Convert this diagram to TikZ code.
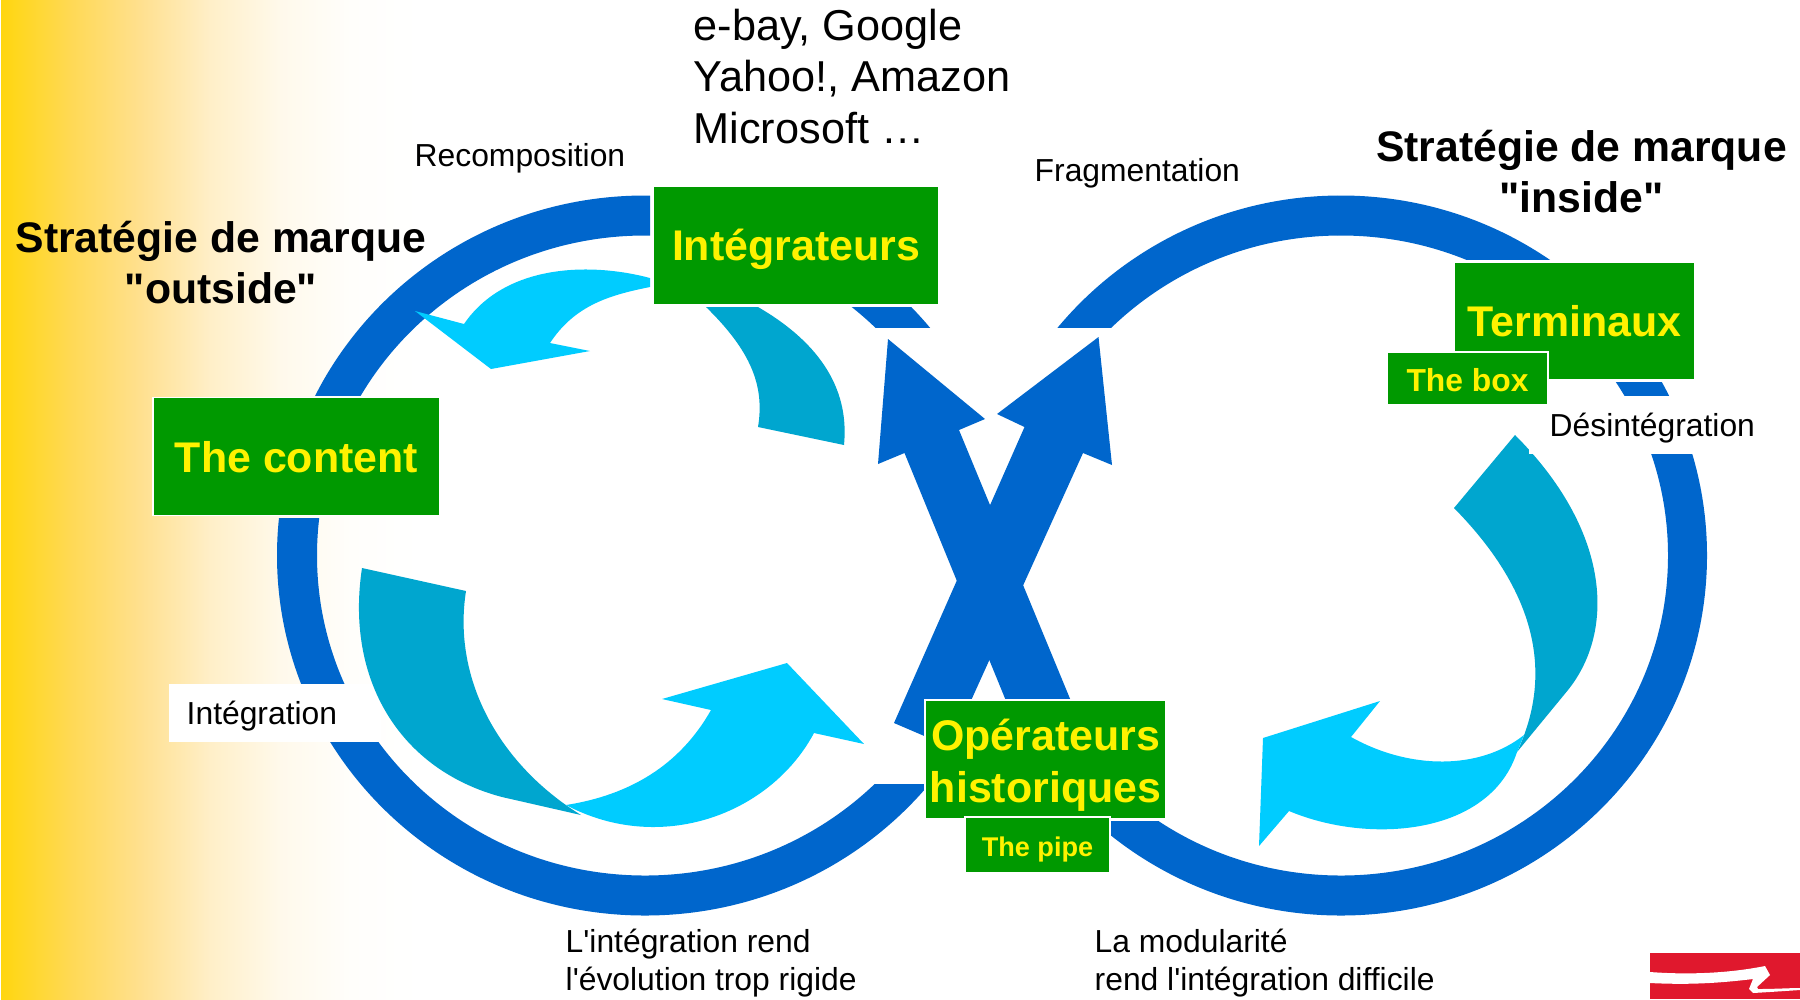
\documentclass[tikz,border=0pt]{standalone}
\usepackage{fontspec}
\setmainfont{Liberation Sans}[Ligatures=TeXOff]
\definecolor{ringblue}{HTML}{0066CC}
\definecolor{darkteal}{HTML}{00A6CF}
\definecolor{lightcyan}{HTML}{00CCFF}
\definecolor{boxgreen}{HTML}{009900}
\definecolor{logored}{HTML}{E0182D}
\definecolor{sideA}{HTML}{FFD60F}
\definecolor{sideB}{HTML}{FFD955}
\definecolor{sideC}{HTML}{FFE08F}
\definecolor{sideD}{HTML}{FFEFC8}
\definecolor{sideE}{HTML}{FFF9EB}
\definecolor{sideF}{HTML}{FFFEFB}
\pgfdeclarehorizontalshading{sidefade}{100bp}{
    color(0bp)=(sideA); color(25bp)=(sideA); color(33.33bp)=(sideB); color(41.67bp)=(sideC);
    color(50bp)=(sideD); color(58.33bp)=(sideE); color(66.67bp)=(sideF); color(75bp)=(white); color(100bp)=(white)}
\tikzset{
    greenbox/.style={draw=white, line width=0.4pt, fill=boxgreen, text=yellow, font=\fontsize{12.2}{14.8}\selectfont\bfseries, align=center, inner sep=0pt},
    oneline/.style={text depth=0pt, text height=0.87em},
    smallbox/.style={greenbox, text depth=0pt, text height=0.73em, font=\fontsize{9.05}{11}\selectfont\bfseries},
    plainlabel/.style={font=\fontsize{9.05}{10.8}\selectfont, align=left, anchor=west, inner sep=0pt},
    biglabel/.style={font=\fontsize{12.3}{14.6}\selectfont, align=left, anchor=west, inner sep=0pt},
    headlabel/.style={font=\fontsize{12.15}{14.5}\selectfont\bfseries, align=center, inner sep=0pt},
}
\begin{document}
\begin{tikzpicture}[x=0.01cm, y=-0.01cm]
    \useasboundingbox (0,0) rectangle (1800,999);
    \fill[white] (0,0) rectangle (1800,999);
    \shade[shading=sidefade] (1,0) rectangle (420,999);
    % left ring, one piece per window
    \foreach \xa/\ya/\xb/\yb in {0/0/650/395, 0/518/650/999, 650/784/930/999, 840/307/940/327.7} {
        \begin{scope}
            \clip (\xa,\ya) rectangle (\xb,\yb);
            \fill[ringblue, even odd rule] (645,555.5) ellipse [x radius=368, y radius=360] (645,555.5) ellipse [x radius=328, y radius=320];
        \end{scope}
    }
    % right ring
    \foreach \xa/\ya/\xb/\yb in {1000/0/1337/327.3, 1337/0/1600/259, 1337/454/1800/999, 1100/821.7/1337/999, 1600/382/1700/396} {
        \begin{scope}
            \clip (\xa,\ya) rectangle (\xb,\yb);
            \fill[ringblue, even odd rule] (1341,555.5) ellipse [x radius=366, y radius=360] (1341,555.5) ellipse [x radius=327, y radius=320];
        \end{scope}
    }
    % the two crossing arrows
    \fill[ringblue] (888,339) -- (985,419) -- (959,430) -- (1085,735) -- (1020,735) -- (904.5,453) -- (878,464) -- cycle;
    \fill[ringblue] (1098.5,337) -- (997,414) -- (1024.5,427) -- (894,723) -- (950,747) -- (1083,453) -- (1112,465) -- cycle;
    % white label under the arrows
    \node[plainlabel, text depth=0pt, fill=white, minimum width=2.12cm, minimum height=0.58cm, text width=1.76cm, inner xsep=0.18cm, inner ysep=0pt] (integration) at (168,713) {Intégration};
    % curved arrows
    \fill[darkteal] (758,307) .. controls (815,340) and (850,385) .. (844,445) -- (758,427) .. controls (765,385) and (750,350) .. (706,307) -- cycle;
    \fill[lightcyan] (650,278) .. controls (590,262) and (505,264) .. (464,324) -- (415,311) -- (491,369) -- (590,351) -- (550,343) .. controls (575,305) and (610,295) .. (650,287) -- cycle;
    \fill[darkteal] (362,568) -- (466,591) .. controls (452,680) and (500,765) .. (581,815) -- (502,797) .. controls (400,770) and (345,680) .. (362,568) -- cycle;
    \fill[lightcyan] (566,805) .. controls (630,795) and (680,765) .. (711,710) -- (662,699) -- (787,663) -- (864,744) -- (814,733) .. controls (770,815) and (660,855) .. (566,805) -- cycle;
    \fill[darkteal] (1515,435) -- (1454,508) .. controls (1510,565) and (1565,650) .. (1517,752) -- (1568,690) .. controls (1616,630) and (1610,530) .. (1515,435) -- cycle;
    \fill[lightcyan] (1380,701) -- (1351,737) .. controls (1410,770) and (1480,770) .. (1524,735) -- (1517,752) .. controls (1490,835) and (1370,845) .. (1289,811) -- (1259,846) -- (1263,738) -- cycle;
    % labels
    \node[plainlabel, text depth=0pt, fill=white, minimum width=2.32cm, minimum height=0.58cm, text width=2.11cm, inner xsep=0.21cm, inner ysep=0pt] (desintegration) at (1528,425) {Désintégration};
    \node[plainlabel] (recomposition) at (414,158.5) {Recomposition};
    \node[plainlabel] (fragmentation) at (1034,173.5) {Fragmentation};
    \node[plainlabel] (rigide) at (565,963.5) {L'intégration rend\\l'évolution trop rigide};
    \node[plainlabel] (modularite) at (1094,963.5) {La modularité\\rend l'intégration difficile};
    \node[biglabel] (leaders) at (693,76.5) {e-bay, Google\\Yahoo!, Amazon\\Microsoft …};
    \node[headlabel] (outside) at (221,263) {Stratégie de marque\\"outside"};
    \node[headlabel] (inside) at (1581.5,171.5) {Stratégie de marque\\"inside"};
    % boxes
    \node[greenbox, oneline, minimum width=2.86cm, minimum height=1.19cm] (integrateurs) at (796,245.5) {Intégrateurs};
    \node[greenbox, oneline, minimum width=2.87cm, minimum height=1.18cm] (content) at (296.5,456.7) {The content};
    \node[greenbox, oneline, minimum width=2.41cm, minimum height=1.18cm] (terminaux) at (1574.5,321) {Terminaux};
    \node[smallbox, minimum width=1.61cm, minimum height=0.53cm] (thebox) at (1467.5,378.5) {The box};
    \node[greenbox, minimum width=2.41cm, minimum height=1.19cm] (operateurs) at (1045.5,759.5) {\rule{0pt}{1em}Opérateurs\\historiques};
    \node[smallbox, text height=0.66em, font=\fontsize{7.7}{10}\selectfont\bfseries, minimum width=1.45cm, minimum height=0.56cm] (thepipe) at (1037.5,845) {The pipe};
    % logo corner
    \fill[logored] (1650,953) rectangle (1800,999);
    \fill[white] (1650,972) .. controls (1690,975) and (1730,973) .. (1765,966) -- (1770,975) -- (1757,987) -- (1758,989) .. controls (1775,989) and (1790,988) .. (1800,988) -- (1800,990) .. controls (1785,991) and (1770,992) .. (1753,993) -- (1749,989) -- (1753,979) .. controls (1720,983) and (1690,985) .. (1650,983) -- cycle;
\end{tikzpicture}
\end{document}
